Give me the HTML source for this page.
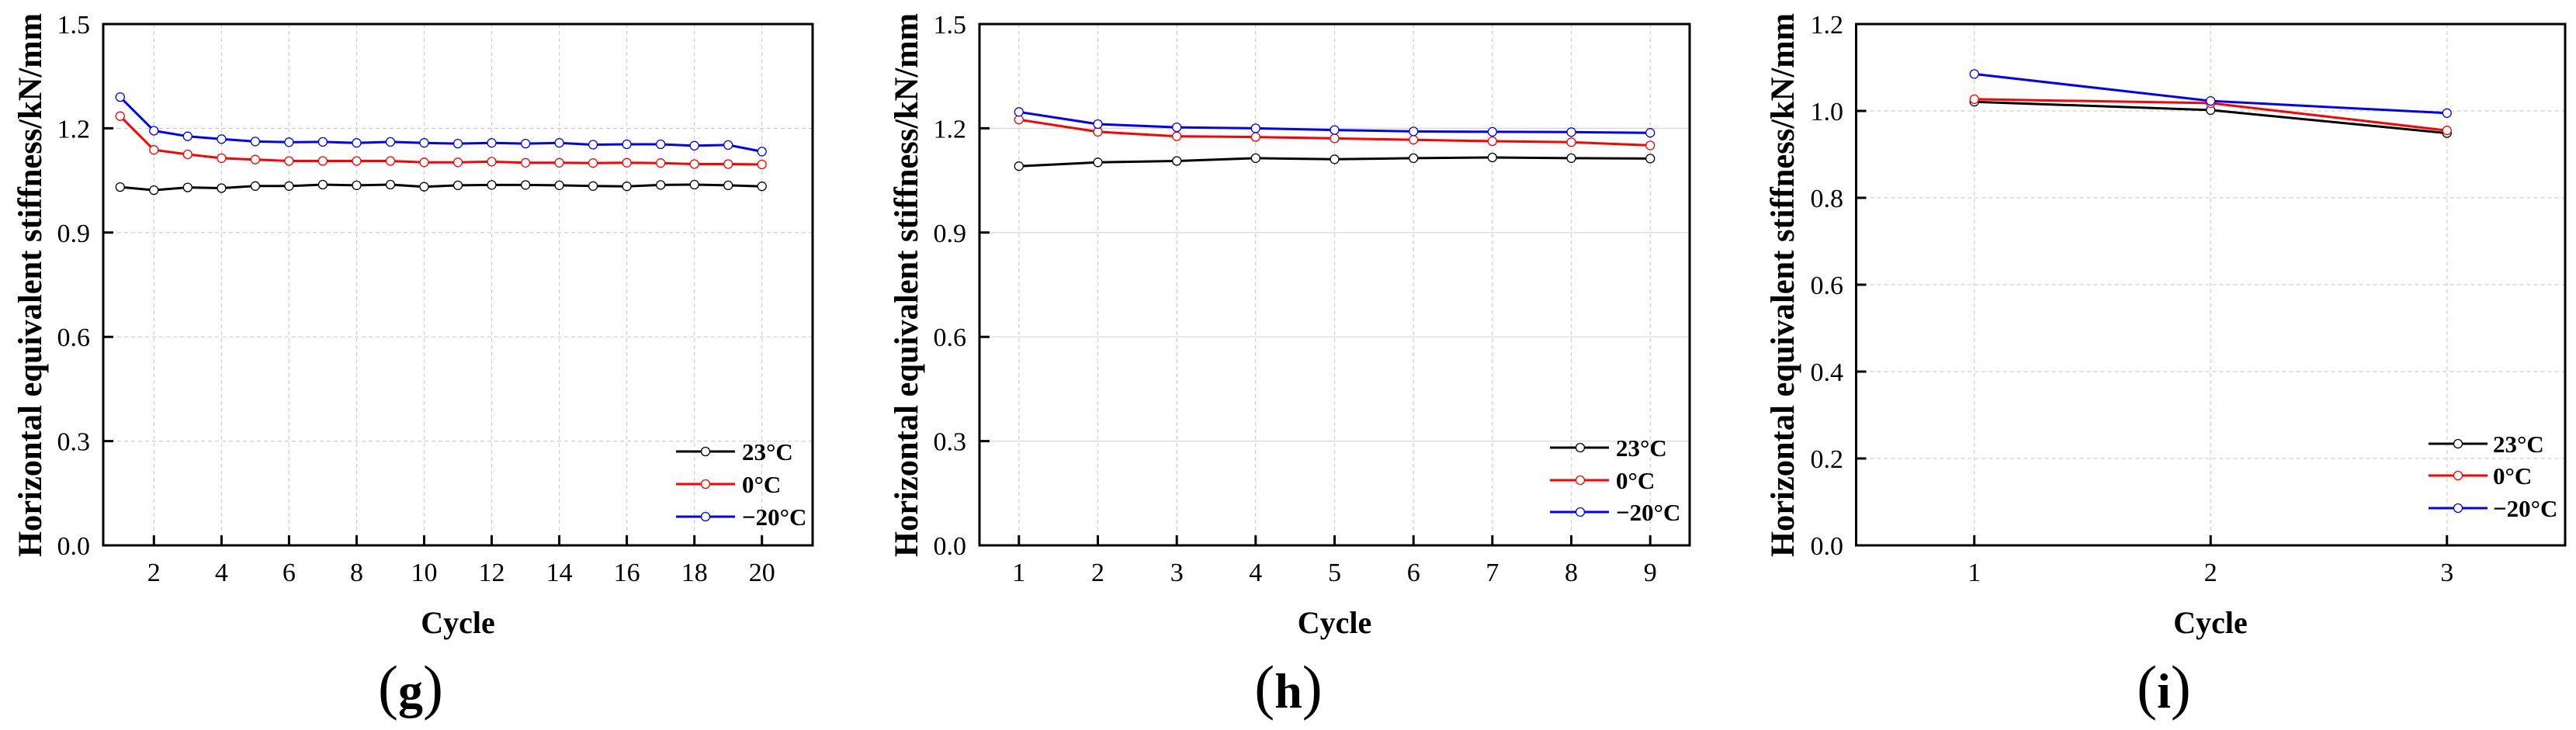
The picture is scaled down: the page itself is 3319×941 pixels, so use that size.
<!DOCTYPE html>
<html><head><meta charset="utf-8"><style>
html,body{margin:0;padding:0;background:#fff;}
svg{display:block;}
text{font-family:"Liberation Serif","Times New Roman",serif;fill:#000;}
.tl{font-size:34px;}
.ax{font-size:43px;font-weight:bold;}
.cy{font-size:40px;font-weight:bold;}
.lg{font-size:31px;font-weight:bold;}
.gd{stroke:#cfcfcf;stroke-width:1.2;stroke-dasharray:5 4;fill:none;}
.gs{stroke:#d8d8d8;stroke-width:1.2;fill:none;}
.fr{stroke:#000;stroke-width:3;fill:none;}
.tk{stroke:#000;stroke-width:3;}
.k{stroke:#000;stroke-width:3;fill:none;stroke-linejoin:round;}
.r{stroke:#ff0000;stroke-width:3;fill:none;stroke-linejoin:round;}
.b{stroke:#0000ff;stroke-width:3;fill:none;stroke-linejoin:round;}
.mk circle{fill:#fff;stroke:#000;stroke-width:1.3;}
.mr circle{fill:#fff;stroke:#ff0000;stroke-width:1.3;}
.mb circle{fill:#fff;stroke:#0000ff;stroke-width:1.3;}
</style></head><body>
<svg width="3319" height="941" viewBox="0 0 3319 941" xmlns="http://www.w3.org/2000/svg">

<!-- ================= PANEL G ================= -->
<g>
<!-- grid -->
<path class="gd" d="M133 568.6H1047M133 434.2H1047M133 299.8H1047M133 165.4H1047"/>
<path class="gd" d="M198.3 31V703M285.4 31V703M372.4 31V703M459.5 31V703M546.5 31V703M633.5 31V703M720.6 31V703M807.6 31V703M894.7 31V703M981.7 31V703"/>
<!-- series -->
<polyline class="k" points="154.8,241.1 198.3,245.1 241.8,241.6 285.4,242.5 328.9,239.8 372.4,239.8 415.9,238 459.5,238.9 503,238 546.5,240.7 590,238.9 633.5,238.4 677.1,238.4 720.6,238.9 764.1,239.8 807.6,240.2 851.2,238.4 894.7,238 938.2,238.9 981.7,240.2"/>
<polyline class="r" points="154.8,149.7 198.3,193.2 241.8,199 285.4,203.9 328.9,205.7 372.4,207.5 415.9,207.5 459.5,207.5 503,207.5 546.5,209.3 590,209.3 633.5,208.4 677.1,209.8 720.6,209.8 764.1,210.2 807.6,209.8 851.2,210.2 894.7,211.5 938.2,211.5 981.7,212"/>
<polyline class="b" points="154.8,125.1 198.3,168.5 241.8,175.7 285.4,179.3 328.9,182.4 372.4,183.3 415.9,182.9 459.5,184.2 503,182.9 546.5,184.2 590,185.1 633.5,184.2 677.1,185.1 720.6,184.2 764.1,186.5 807.6,186 851.2,186 894.7,187.8 938.2,186.9 981.7,195.4"/>
<g class="mk">
<circle cx="154.8" cy="241.1" r="5.5"/><circle cx="198.3" cy="245.1" r="5.5"/><circle cx="241.8" cy="241.6" r="5.5"/><circle cx="285.4" cy="242.5" r="5.5"/><circle cx="328.9" cy="239.8" r="5.5"/><circle cx="372.4" cy="239.8" r="5.5"/><circle cx="415.9" cy="238" r="5.5"/><circle cx="459.5" cy="238.9" r="5.5"/><circle cx="503" cy="238" r="5.5"/><circle cx="546.5" cy="240.7" r="5.5"/><circle cx="590" cy="238.9" r="5.5"/><circle cx="633.5" cy="238.4" r="5.5"/><circle cx="677.1" cy="238.4" r="5.5"/><circle cx="720.6" cy="238.9" r="5.5"/><circle cx="764.1" cy="239.8" r="5.5"/><circle cx="807.6" cy="240.2" r="5.5"/><circle cx="851.2" cy="238.4" r="5.5"/><circle cx="894.7" cy="238" r="5.5"/><circle cx="938.2" cy="238.9" r="5.5"/><circle cx="981.7" cy="240.2" r="5.5"/>
</g>
<g class="mr">
<circle cx="154.8" cy="149.7" r="5.5"/><circle cx="198.3" cy="193.2" r="5.5"/><circle cx="241.8" cy="199" r="5.5"/><circle cx="285.4" cy="203.9" r="5.5"/><circle cx="328.9" cy="205.7" r="5.5"/><circle cx="372.4" cy="207.5" r="5.5"/><circle cx="415.9" cy="207.5" r="5.5"/><circle cx="459.5" cy="207.5" r="5.5"/><circle cx="503" cy="207.5" r="5.5"/><circle cx="546.5" cy="209.3" r="5.5"/><circle cx="590" cy="209.3" r="5.5"/><circle cx="633.5" cy="208.4" r="5.5"/><circle cx="677.1" cy="209.8" r="5.5"/><circle cx="720.6" cy="209.8" r="5.5"/><circle cx="764.1" cy="210.2" r="5.5"/><circle cx="807.6" cy="209.8" r="5.5"/><circle cx="851.2" cy="210.2" r="5.5"/><circle cx="894.7" cy="211.5" r="5.5"/><circle cx="938.2" cy="211.5" r="5.5"/><circle cx="981.7" cy="212" r="5.5"/>
</g>
<g class="mb">
<circle cx="154.8" cy="125.1" r="5.5"/><circle cx="198.3" cy="168.5" r="5.5"/><circle cx="241.8" cy="175.7" r="5.5"/><circle cx="285.4" cy="179.3" r="5.5"/><circle cx="328.9" cy="182.4" r="5.5"/><circle cx="372.4" cy="183.3" r="5.5"/><circle cx="415.9" cy="182.9" r="5.5"/><circle cx="459.5" cy="184.2" r="5.5"/><circle cx="503" cy="182.9" r="5.5"/><circle cx="546.5" cy="184.2" r="5.5"/><circle cx="590" cy="185.1" r="5.5"/><circle cx="633.5" cy="184.2" r="5.5"/><circle cx="677.1" cy="185.1" r="5.5"/><circle cx="720.6" cy="184.2" r="5.5"/><circle cx="764.1" cy="186.5" r="5.5"/><circle cx="807.6" cy="186" r="5.5"/><circle cx="851.2" cy="186" r="5.5"/><circle cx="894.7" cy="187.8" r="5.5"/><circle cx="938.2" cy="186.9" r="5.5"/><circle cx="981.7" cy="195.4" r="5.5"/>
</g>
<!-- frame & ticks -->
<rect class="fr" x="133" y="31" width="914" height="672"/>
<path class="tk" d="M133 568.6h13M133 434.2h13M133 299.8h13M133 165.4h13M198.3 703v-13M285.4 703v-13M372.4 703v-13M459.5 703v-13M546.5 703v-13M633.5 703v-13M720.6 703v-13M807.6 703v-13M894.7 703v-13M981.7 703v-13"/>
<!-- y tick labels -->
<g class="tl" text-anchor="end">
<text x="116" y="715">0.0</text><text x="116" y="580.6">0.3</text><text x="116" y="446.2">0.6</text><text x="116" y="311.8">0.9</text><text x="116" y="177.4">1.2</text><text x="116" y="43">1.5</text>
</g>
<g class="tl" text-anchor="middle">
<text x="198.3" y="749">2</text><text x="285.4" y="749">4</text><text x="372.4" y="749">6</text><text x="459.5" y="749">8</text><text x="546.5" y="749">10</text><text x="633.5" y="749">12</text><text x="720.6" y="749">14</text><text x="807.6" y="749">16</text><text x="894.7" y="749">18</text><text x="981.7" y="749">20</text>
</g>
<text class="ax" x="53" y="367.5" text-anchor="middle" transform="rotate(-90 53 367.5)" textLength="701" lengthAdjust="spacingAndGlyphs">Horizontal equivalent stiffness/kN/mm</text>
<text class="cy" x="590" y="816" text-anchor="middle">Cycle</text>
<text x="529" y="912" text-anchor="middle"><tspan font-size="78">(</tspan><tspan font-size="64" font-weight="bold">g</tspan><tspan font-size="78">)</tspan></text>
<!-- legend -->
<path class="k" d="M871 582H947"/><path class="r" d="M871 624H947"/><path class="b" d="M871 666H947"/>
<g class="mk"><circle cx="909" cy="582" r="5.5"/></g><g class="mr"><circle cx="909" cy="624" r="5.5"/></g><g class="mb"><circle cx="909" cy="666" r="5.5"/></g>
<text class="lg" x="956" y="593">23°C</text><text class="lg" x="956" y="635">0°C</text><text class="lg" x="956" y="677">−20°C</text>
</g>

<!-- ================= PANEL H ================= -->
<g>
<path class="gs" d="M1262 568.6H2177M1262 434.2H2177M1262 299.8H2177M1262 165.4H2177"/>
<path class="gd" d="M1312.8 31V703M1414.5 31V703M1516.2 31V703M1617.8 31V703M1719.5 31V703M1821.2 31V703M1922.8 31V703M2024.5 31V703M2126.2 31V703"/>
<polyline class="k" points="1312.8,214.2 1414.5,209.3 1516.2,207.5 1617.8,203.9 1719.5,205.3 1821.2,203.9 1922.8,203 2024.5,203.9 2126.2,204.4"/>
<polyline class="r" points="1312.8,154.2 1414.5,169.9 1516.2,175.7 1617.8,176.6 1719.5,178.4 1821.2,180.2 1922.8,182 2024.5,183.3 2126.2,187.4"/>
<polyline class="b" points="1312.8,144.3 1414.5,160 1516.2,164.1 1617.8,165.4 1719.5,167.6 1821.2,169.4 1922.8,169.9 2024.5,170.3 2126.2,171.2"/>
<g class="mk">
<circle cx="1312.8" cy="214.2" r="5.5"/><circle cx="1414.5" cy="209.3" r="5.5"/><circle cx="1516.2" cy="207.5" r="5.5"/><circle cx="1617.8" cy="203.9" r="5.5"/><circle cx="1719.5" cy="205.3" r="5.5"/><circle cx="1821.2" cy="203.9" r="5.5"/><circle cx="1922.8" cy="203" r="5.5"/><circle cx="2024.5" cy="203.9" r="5.5"/><circle cx="2126.2" cy="204.4" r="5.5"/>
</g>
<g class="mr">
<circle cx="1312.8" cy="154.2" r="5.5"/><circle cx="1414.5" cy="169.9" r="5.5"/><circle cx="1516.2" cy="175.7" r="5.5"/><circle cx="1617.8" cy="176.6" r="5.5"/><circle cx="1719.5" cy="178.4" r="5.5"/><circle cx="1821.2" cy="180.2" r="5.5"/><circle cx="1922.8" cy="182" r="5.5"/><circle cx="2024.5" cy="183.3" r="5.5"/><circle cx="2126.2" cy="187.4" r="5.5"/>
</g>
<g class="mb">
<circle cx="1312.8" cy="144.3" r="5.5"/><circle cx="1414.5" cy="160" r="5.5"/><circle cx="1516.2" cy="164.1" r="5.5"/><circle cx="1617.8" cy="165.4" r="5.5"/><circle cx="1719.5" cy="167.6" r="5.5"/><circle cx="1821.2" cy="169.4" r="5.5"/><circle cx="1922.8" cy="169.9" r="5.5"/><circle cx="2024.5" cy="170.3" r="5.5"/><circle cx="2126.2" cy="171.2" r="5.5"/>
</g>
<rect class="fr" x="1262" y="31" width="915" height="672"/>
<path class="tk" d="M1262 568.6h13M1262 434.2h13M1262 299.8h13M1262 165.4h13M1312.8 703v-13M1414.5 703v-13M1516.2 703v-13M1617.8 703v-13M1719.5 703v-13M1821.2 703v-13M1922.8 703v-13M2024.5 703v-13M2126.2 703v-13"/>
<g class="tl" text-anchor="end">
<text x="1245" y="715">0.0</text><text x="1245" y="580.6">0.3</text><text x="1245" y="446.2">0.6</text><text x="1245" y="311.8">0.9</text><text x="1245" y="177.4">1.2</text><text x="1245" y="43">1.5</text>
</g>
<g class="tl" text-anchor="middle">
<text x="1312.8" y="749">1</text><text x="1414.5" y="749">2</text><text x="1516.2" y="749">3</text><text x="1617.8" y="749">4</text><text x="1719.5" y="749">5</text><text x="1821.2" y="749">6</text><text x="1922.8" y="749">7</text><text x="2024.5" y="749">8</text><text x="2126.2" y="749">9</text>
</g>
<text class="ax" x="1182" y="367.5" text-anchor="middle" transform="rotate(-90 1182 367.5)" textLength="701" lengthAdjust="spacingAndGlyphs">Horizontal equivalent stiffness/kN/mm</text>
<text class="cy" x="1719.5" y="816" text-anchor="middle">Cycle</text>
<text x="1660" y="912" text-anchor="middle"><tspan font-size="78">(</tspan><tspan font-size="64" font-weight="bold">h</tspan><tspan font-size="78">)</tspan></text>
<path class="k" d="M1997 577H2073"/><path class="r" d="M1997 619H2073"/><path class="b" d="M1997 660H2073"/>
<g class="mk"><circle cx="2036" cy="577" r="5.5"/></g><g class="mr"><circle cx="2036" cy="619" r="5.5"/></g><g class="mb"><circle cx="2036" cy="660" r="5.5"/></g>
<text class="lg" x="2082" y="588">23°C</text><text class="lg" x="2082" y="630">0°C</text><text class="lg" x="2082" y="671">−20°C</text>
</g>

<!-- ================= PANEL I ================= -->
<g>
<path class="gd" d="M2391.5 591H3305M2391.5 479H3305M2391.5 367H3305M2391.5 255H3305M2391.5 143H3305"/>
<path class="gd" d="M2543.75 31V703M2848.25 31V703M3152.75 31V703"/>
<polyline class="k" points="2543.75,131.2 2848.25,141.9 3152.75,171.6"/>
<polyline class="r" points="2543.75,127.9 2848.25,132.9 3152.75,168.2"/>
<polyline class="b" points="2543.75,95.4 2848.25,130.1 3152.75,145.8"/>
<g class="mk"><circle cx="2543.75" cy="131.2" r="5.5"/><circle cx="2848.25" cy="141.9" r="5.5"/><circle cx="3152.75" cy="171.6" r="5.5"/></g>
<g class="mr"><circle cx="2543.75" cy="127.9" r="5.5"/><circle cx="2848.25" cy="132.9" r="5.5"/><circle cx="3152.75" cy="168.2" r="5.5"/></g>
<g class="mb"><circle cx="2543.75" cy="95.4" r="5.5"/><circle cx="2848.25" cy="130.1" r="5.5"/><circle cx="3152.75" cy="145.8" r="5.5"/></g>
<rect class="fr" x="2391.5" y="31" width="913.5" height="672"/>
<path class="tk" d="M2391.5 591h13M2391.5 479h13M2391.5 367h13M2391.5 255h13M2391.5 143h13M2543.75 703v-13M2848.25 703v-13M3152.75 703v-13"/>
<g class="tl" text-anchor="end">
<text x="2375" y="715">0.0</text><text x="2375" y="603">0.2</text><text x="2375" y="491">0.4</text><text x="2375" y="379">0.6</text><text x="2375" y="267">0.8</text><text x="2375" y="155">1.0</text><text x="2375" y="43">1.2</text>
</g>
<g class="tl" text-anchor="middle">
<text x="2543.75" y="749">1</text><text x="2848.25" y="749">2</text><text x="3152.75" y="749">3</text>
</g>
<text class="ax" x="2311" y="367.5" text-anchor="middle" transform="rotate(-90 2311 367.5)" textLength="701" lengthAdjust="spacingAndGlyphs">Horizontal equivalent stiffness/kN/mm</text>
<text class="cy" x="2848" y="816" text-anchor="middle">Cycle</text>
<text x="2788" y="912" text-anchor="middle"><tspan font-size="78">(</tspan><tspan font-size="64" font-weight="bold">i</tspan><tspan font-size="78">)</tspan></text>
<path class="k" d="M3129 572H3205"/><path class="r" d="M3129 613H3205"/><path class="b" d="M3129 655H3205"/>
<g class="mk"><circle cx="3167" cy="572" r="5.5"/></g><g class="mr"><circle cx="3167" cy="613" r="5.5"/></g><g class="mb"><circle cx="3167" cy="655" r="5.5"/></g>
<text class="lg" x="3212" y="583">23°C</text><text class="lg" x="3212" y="624">0°C</text><text class="lg" x="3212" y="666">−20°C</text>
</g>
</svg>
</body></html>
